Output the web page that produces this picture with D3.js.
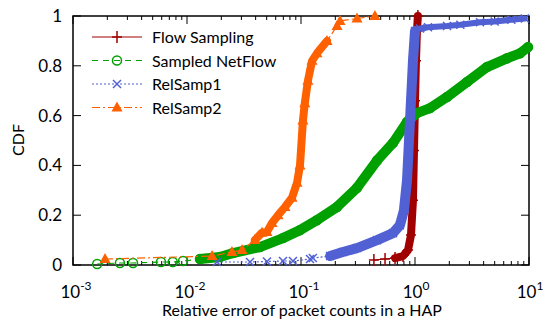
<!DOCTYPE html>
<html>
<head>
<meta charset="UTF-8">
<script src="https://d3js.org/d3.v7.min.js"></script>
<style>
  body { margin: 0; background: #fff; }
  svg { display: block; font-family: Lato, "Open Sans", sans-serif; }
</style>
</head>
<body>
<svg id="chart" width="544" height="322"></svg>
<script>
// values (x = relative error, y = CDF)
const flowX = [0.436, 0.546, 0.668, 0.785, 0.869, 0.922, 0.96, 0.98, 1.0, 1.02, 1.04, 1.06];
const flowY = [0.02, 0.024, 0.028, 0.036, 0.06, 0.12, 0.26, 0.46, 0.66, 0.82, 0.94, 1.0];

const nfX = [0.00163, 0.00258, 0.00336, 0.00591, 0.0075, 0.00923, 0.013, 0.0195, 0.0253, 0.0436, 0.0695, 0.098, 0.138, 0.207, 0.31, 0.465, 0.641, 0.851, 1.04, 1.355, 1.91, 2.86, 4.28, 6.41, 8.34, 9.8];
const nfY = [0.004, 0.008, 0.008, 0.012, 0.012, 0.016, 0.024, 0.032, 0.048, 0.072, 0.108, 0.14, 0.18, 0.233, 0.31, 0.42, 0.49, 0.574, 0.61, 0.63, 0.675, 0.735, 0.795, 0.83, 0.85, 0.875];

const rs1X = [0.0183, 0.0357, 0.0503, 0.0695, 0.085, 0.12, 0.127, 0.18, 0.233, 0.31, 0.465, 0.641, 0.738, 0.80, 0.851, 0.886, 0.922, 0.96, 1.0, 1.107, 1.3, 1.91, 2.5, 3.72, 5.0, 7.0, 9.2];
const rs1Y = [0.012, 0.012, 0.014, 0.016, 0.016, 0.024, 0.028, 0.036, 0.052, 0.068, 0.10, 0.128, 0.16, 0.22, 0.34, 0.50, 0.66, 0.82, 0.94, 0.95, 0.955, 0.96, 0.965, 0.975, 0.978, 0.985, 0.99];

const rs2X = [0.00191, 0.0166, 0.0248, 0.0304, 0.0394, 0.0455, 0.0503, 0.0557, 0.0629, 0.0724, 0.0834, 0.0923, 0.098, 0.104, 0.108, 0.115, 0.125, 0.138, 0.169, 0.207, 0.22, 0.31, 0.445];
const rs2Y = [0.024, 0.036, 0.052, 0.06, 0.10, 0.13, 0.133, 0.169, 0.20, 0.233, 0.27, 0.33, 0.40, 0.58, 0.65, 0.74, 0.82, 0.85, 0.90, 0.96, 0.98, 0.99, 1.0];

const seriesNames = ["Flow Sampling", "Sampled NetFlow", "RelSamp1", "RelSamp2"];
const xTickExps = [-3, -2, -1, 0, 1];
const yTicks = [0, 0.2, 0.4, 0.6, 0.8, 1];
const yTickLabels = ["0", "0.2", "0.4", "0.6", "0.8", "1"];

// bands: [from x, to x, width] where markers are so dense they merge
const series = [
  { name: seriesNames[0], xs: flowX, ys: flowY, color: "#a00000", dash: null, marker: "plus", bands: [[0.6, 1.1, 8]] },
  { name: seriesNames[1], xs: nfX, ys: nfY, color: "#00a000", dash: "6,5", marker: "circle", bands: [[0.012, 10, 10]] },
  { name: seriesNames[2], xs: rs1X, ys: rs1Y, color: "#5161d4", dash: "2,2", marker: "cross", bands: [[0.15, 1.05, 10], [1.0, 10, 6]] },
  { name: seriesNames[3], xs: rs2X, ys: rs2Y, color: "#ff6000", dash: "8,3,2,3", marker: "tri", bands: [[0.035, 0.2, 8]] }
];

const svg = d3.select("#chart");
const m = { left: 73, right: 15, top: 16, bottom: 57 };
const W = 544, H = 322;

const x = d3.scaleLog().domain([1e-3, 10]).range([m.left, W - m.right]);
const y = d3.scaleLinear().domain([0, 1]).range([H - m.bottom, m.top]);

const line = d3.line().x(d => x(d[0])).y(d => y(d[1]));

function drawMarker(g, type, cx, cy, color) {
  if (type === "plus") {
    g.append("path").attr("d", `M${cx - 5},${cy}H${cx + 5}M${cx},${cy - 6}V${cy + 6}`)
      .attr("stroke", color).attr("stroke-width", 1.5).attr("fill", "none");
  } else if (type === "circle") {
    g.append("circle").attr("cx", cx).attr("cy", cy).attr("r", 4.5)
      .attr("stroke", color).attr("stroke-width", 1.5).attr("fill", "none");
  } else if (type === "cross") {
    g.append("path").attr("d", `M${cx - 4},${cy - 4}L${cx + 4},${cy + 4}M${cx - 4},${cy + 4}L${cx + 4},${cy - 4}`)
      .attr("stroke", color).attr("stroke-width", 1.5).attr("fill", "none");
  } else {
    g.append("path").attr("d", `M${cx},${cy - 6}L${cx + 5.5},${cy + 4}L${cx - 5.5},${cy + 4}Z`)
      .attr("fill", color);
  }
}

// axes frame
svg.append("rect").attr("x", m.left).attr("y", m.top)
  .attr("width", W - m.left - m.right).attr("height", H - m.top - m.bottom)
  .attr("fill", "none").attr("stroke", "#000").attr("stroke-width", 1.5);

// x ticks (inside, bottom and top)
const xt = svg.append("g");
xTickExps.forEach((e, i) => {
  const px = x(Math.pow(10, e));
  [[H - m.bottom, -8], [m.top, 8]].forEach(([y0, d]) => {
    xt.append("line").attr("x1", px).attr("x2", px).attr("y1", y0).attr("y2", y0 + d)
      .attr("stroke", "#000").attr("stroke-width", 1);
  });
  if (i < xTickExps.length - 1) {
    for (let k = 2; k <= 9; k++) {
      const mx = x(k * Math.pow(10, e));
      [[H - m.bottom, -4], [m.top, 4]].forEach(([y0, d]) => {
        xt.append("line").attr("x1", mx).attr("x2", mx).attr("y1", y0).attr("y2", y0 + d)
          .attr("stroke", "#000").attr("stroke-width", 1);
      });
    }
  }
  const t = xt.append("text").attr("x", px + (e < 0 ? 3 : 1)).attr("y", 298).attr("text-anchor", "middle")
    .attr("font-size", 17).attr("fill", "#000");
  t.append("tspan").text("10");
  t.append("tspan").attr("dy", -8).attr("font-size", 12).text(String(e));
});

// y ticks (inside, left and right)
const yt = svg.append("g");
yTicks.forEach((v, i) => {
  const py = y(v);
  [[m.left, 8], [W - m.right, -8]].forEach(([x0, d]) => {
    yt.append("line").attr("x1", x0).attr("x2", x0 + d).attr("y1", py).attr("y2", py)
      .attr("stroke", "#000").attr("stroke-width", 1);
  });
  yt.append("text").attr("x", 62).attr("y", py + 6).attr("text-anchor", "end")
    .attr("font-size", 17).attr("fill", "#000").text(yTickLabels[i]);
});

// axis titles
svg.append("text").attr("x", 302).attr("y", 316).attr("text-anchor", "middle")
  .attr("font-size", 16).text("Relative error of packet counts in a HAP");
svg.append("text").attr("transform", "translate(24,140) rotate(-90)").attr("text-anchor", "middle")
  .attr("font-size", 16).text("CDF");

// data
const plot = svg.append("g");
series.forEach(s => {
  const pts = s.xs.map((v, i) => [v, s.ys[i]]);
  const g = plot.append("g");
  g.append("path").attr("d", line(pts)).attr("fill", "none").attr("stroke", s.color)
    .attr("stroke-width", 1.2).attr("stroke-dasharray", s.dash);
  s.bands.forEach(([lo, hi, w]) => {
    const dense = pts.filter(p => p[0] >= lo && p[0] <= hi);
    g.append("path").attr("d", line(dense)).attr("fill", "none").attr("stroke", s.color)
      .attr("stroke-width", w).attr("stroke-linejoin", "round").attr("stroke-linecap", "round");
  });
  pts.forEach(p => drawMarker(g, s.marker, x(p[0]), y(p[1]), s.color));
});

// legend
const lg = svg.append("g");
series.forEach((s, i) => {
  const ly = 37 + i * 23.5;
  lg.append("line").attr("x1", 92).attr("x2", 142).attr("y1", ly).attr("y2", ly)
    .attr("stroke", s.color).attr("stroke-width", 1.2).attr("stroke-dasharray", s.dash);
  drawMarker(lg, s.marker, 117, ly, s.color);
  lg.append("text").attr("x", 152).attr("y", ly + 6).attr("font-size", 16).text(s.name);
});
</script>
</body>
</html>
